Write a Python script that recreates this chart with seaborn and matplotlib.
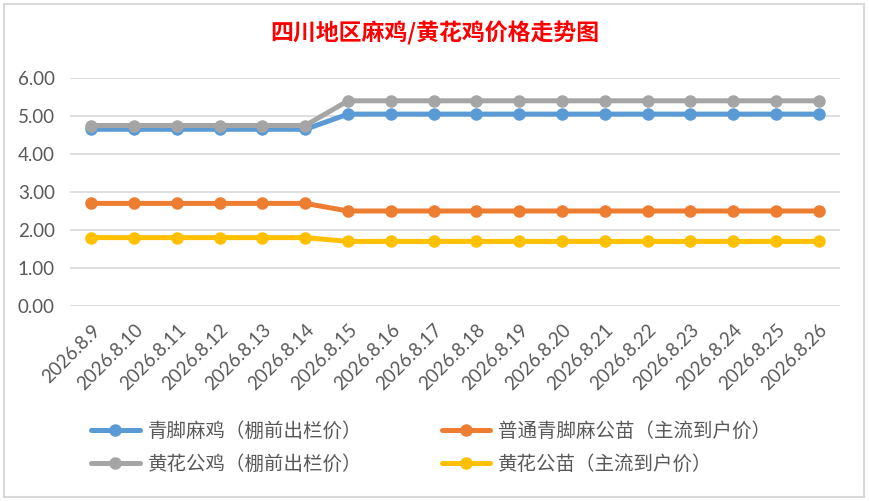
import matplotlib
matplotlib.use("Agg")
import matplotlib.pyplot as plt
import seaborn as sns
import pandas as pd
from matplotlib.patches import Rectangle
from matplotlib.lines import Line2D

dates = ["2026.8.9", "2026.8.10", "2026.8.11", "2026.8.12", "2026.8.13", "2026.8.14",
         "2026.8.15", "2026.8.16", "2026.8.17", "2026.8.18", "2026.8.19", "2026.8.20",
         "2026.8.21", "2026.8.22", "2026.8.23", "2026.8.24", "2026.8.25", "2026.8.26"]
qingjiao_ma = [4.65, 4.65, 4.65, 4.65, 4.65, 4.65, 5.05, 5.05, 5.05, 5.05, 5.05, 5.05,
               5.05, 5.05, 5.05, 5.05, 5.05, 5.05]
putong_miao = [2.70, 2.70, 2.70, 2.70, 2.70, 2.70, 2.50, 2.50, 2.50, 2.50, 2.50, 2.50,
               2.50, 2.50, 2.50, 2.50, 2.50, 2.50]
huanghua_gong = [4.75, 4.75, 4.75, 4.75, 4.75, 4.75, 5.40, 5.40, 5.40, 5.40, 5.40, 5.40,
                 5.40, 5.40, 5.40, 5.40, 5.40, 5.40]
huanghua_miao = [1.80, 1.80, 1.80, 1.80, 1.80, 1.80, 1.70, 1.70, 1.70, 1.70, 1.70, 1.70,
                 1.70, 1.70, 1.70, 1.70, 1.70, 1.70]
series_names = ["青脚麻鸡（棚前出栏价）", "普通青脚麻公苗（主流到户价）",
                "黄花公鸡（棚前出栏价）", "黄花公苗（主流到户价）"]
yticks = [0, 1, 2, 3, 4, 5, 6]
title = "四川地区麻鸡/黄花鸡价格走势图"

colors = ["#5B9BD5", "#ED7D31", "#A5A5A5", "#FFC000"]
values = [qingjiao_ma, putong_miao, huanghua_gong, huanghua_miao]

sns.set_theme(style="white")
plt.rcParams['font.family'] = ['Lato', 'Noto Sans CJK SC', 'DejaVu Sans']

fig = plt.figure(figsize=(8.7, 5.01), dpi=100)
ax = fig.add_axes([70/870, 1-306/501, 770/870, 228/501])

for name, vals, c in zip(series_names, values, colors):
    df = pd.DataFrame({"x": list(range(len(dates))), "y": vals})
    sns.lineplot(data=df, x="x", y="y", ax=ax, color=c, linewidth=3.6,
                 marker="o", markersize=9, markeredgewidth=0, label=name, legend=False)

ax.set_xlim(-0.5, len(dates) - 0.5)
ax.set_ylim(0, 6)
ax.set_yticks(yticks)
ax.set_yticklabels([f"{v:.2f}" for v in yticks], fontsize=13.5, color="#595959")
ax.set_xticks(range(len(dates)))
ax.set_xticklabels(dates, rotation=45, ha="right", rotation_mode="anchor",
                   fontsize=13.5, color="#595959")
ax.tick_params(axis="both", length=0)
ax.tick_params(axis="x", pad=11)
ax.tick_params(axis="y", pad=11)
ax.set_xlabel("")
ax.set_ylabel("")
ax.grid(axis="y", color="#D9D9D9", linewidth=1.2)
ax.set_axisbelow(True)
for s in ax.spines.values():
    s.set_visible(False)

fig.text(0.5, 1-33/501, title, ha="center", va="center", fontsize=16.5,
         fontweight="bold", color="#FF0000", family=['Noto Sans CJK SC', 'DejaVu Sans'])

handles = [Line2D([0], [0], color=c, linewidth=3.6, marker="o", markersize=9,
                  markeredgewidth=0) for c in colors]
order = [0, 2, 1, 3]
leg = fig.legend([handles[i] for i in order], [series_names[i] for i in order],
                 loc="center", bbox_to_anchor=(431/870, 1-448/501), ncol=2, frameon=False,
                 handlelength=2.5, handletextpad=0.4, columnspacing=4.1, labelspacing=0.6,
                 borderpad=0,
                 prop={"family": ['Noto Sans CJK SC', 'DejaVu Sans'], "size": 14})
for t in leg.get_texts():
    t.set_color("#595959")

fig.patches.append(Rectangle((4/870, 4/501), 860/870, 493/501, transform=fig.transFigure,
                             fill=False, edgecolor="#D9D9D9", linewidth=1.5))

fig.savefig("out.png", dpi=100)
